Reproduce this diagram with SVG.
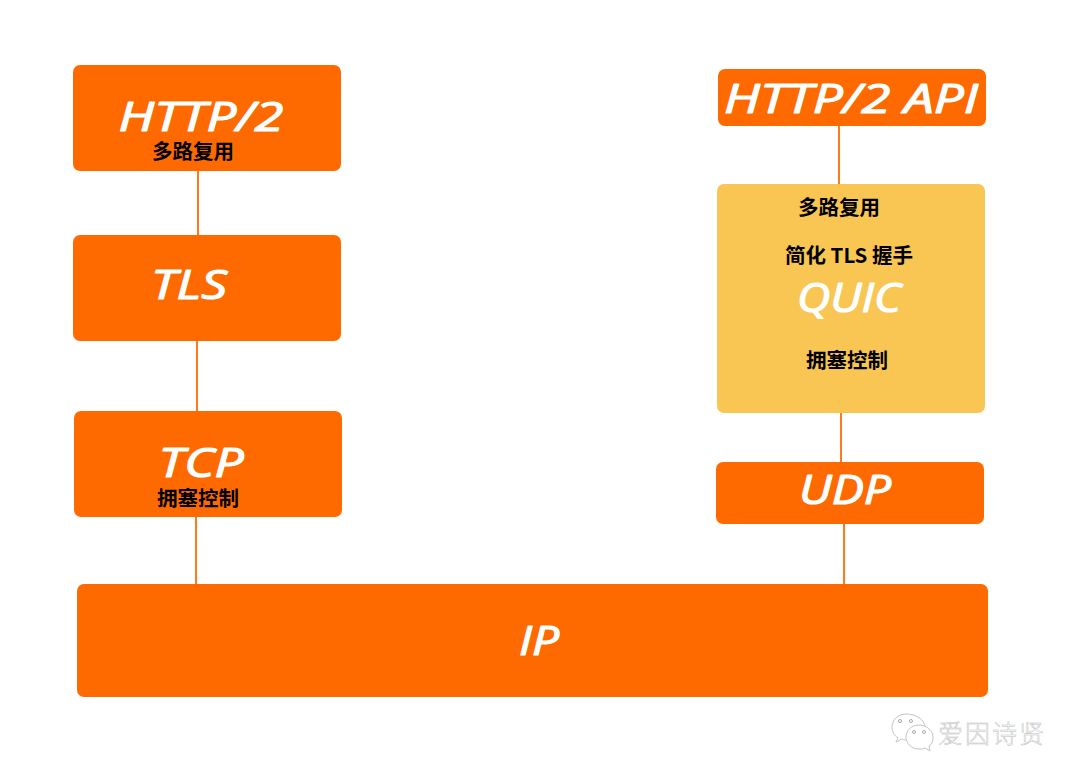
<svg xmlns="http://www.w3.org/2000/svg" width="1080" height="781" viewBox="0 0 1080 781">
<style>
.box{fill:#ff6a00}
.quic{fill:#f9c654}
.link{stroke:#ff7a1a;stroke-width:2;fill:none}
.title{font-family:"Open Sans","DejaVu Sans",sans-serif;font-style:italic;fill:#fff;stroke:#fff;stroke-width:1.2;stroke-linejoin:round;font-size:40px;text-anchor:middle}
.note{font-family:"Noto Sans CJK SC",sans-serif;font-weight:700;font-size:20.5px;fill:#000;text-anchor:middle}
.mark{font-family:"Noto Sans CJK SC",sans-serif;font-weight:300;font-size:25px;fill:#fff;stroke:#bdbdbd;stroke-width:.5}
.bubble{fill:#fff;stroke:#c4c4c4;stroke-width:1}
.dot{fill:#fff;stroke:#aaa;stroke-width:1}
</style>
<rect width="1080" height="781" fill="#fff"/>
<g id="connectors">
<line class="link" x1="198" y1="170" x2="198" y2="236"/>
<line class="link" x1="197" y1="340" x2="197" y2="411"/>
<line class="link" x1="196" y1="516" x2="196" y2="585"/>
<line class="link" x1="839" y1="125" x2="839" y2="185"/>
<line class="link" x1="841" y1="412" x2="841" y2="462"/>
<line class="link" x1="844" y1="523" x2="844" y2="585"/>
</g>
<g id="http2">
<rect class="box" x="73" y="65" width="268" height="106" rx="7"/>
<text class="title" x="201" y="131" textLength="165" lengthAdjust="spacingAndGlyphs">HTTP/2</text>
<text class="note" x="193" y="159">多路复用</text>
</g>
<g id="tls">
<rect class="box" x="73" y="235" width="268" height="106" rx="7"/>
<text class="title" x="189" y="299" textLength="76" lengthAdjust="spacingAndGlyphs">TLS</text>
</g>
<g id="tcp">
<rect class="box" x="74" y="411" width="268" height="106" rx="7"/>
<text class="title" x="201" y="477" textLength="85" lengthAdjust="spacingAndGlyphs">TCP</text>
<text class="note" x="198" y="506">拥塞控制</text>
</g>
<g id="http2-api">
<rect class="box" x="718" y="69" width="268" height="57" rx="7"/>
<text class="title" x="851" y="113" textLength="254" lengthAdjust="spacingAndGlyphs">HTTP/2 API</text>
</g>
<g id="quic">
<rect class="quic" x="717" y="184" width="268" height="229" rx="7"/>
<text class="note" x="839" y="215">多路复用</text>
<text class="note" x="849" y="263">简化 TLS 握手</text>
<text class="title" x="849" y="312" textLength="104" lengthAdjust="spacingAndGlyphs">QUIC</text>
<text class="note" x="847" y="368">拥塞控制</text>
</g>
<g id="udp">
<rect class="box" x="716" y="462" width="268" height="62" rx="7"/>
<text class="title" x="845" y="504" textLength="92" lengthAdjust="spacingAndGlyphs">UDP</text>
</g>
<g id="ip">
<rect class="box" x="77" y="584" width="911" height="113" rx="7"/>
<text class="title" x="539" y="655" textLength="40" lengthAdjust="spacingAndGlyphs">IP</text>
</g>
<g id="watermark">
<path class="bubble" d="M906 714c-8 0-14 6-14 13 0 5 2 8 6 11l-2 4 6-3c2 1 4 1 6 1 10 0 17-6 17-13s-9-13-19-13z"/>
<circle class="dot" cx="900" cy="721" r="1.5"/><circle class="dot" cx="911" cy="721" r="1.5"/>
<path class="bubble" d="M919 725c-8 0-13 6-13 12s5 12 13 12c2 0 4 0 6-1l5 3-1-5c3-2 4-5 4-9 0-6-6-12-14-12z"/>
<circle class="dot" cx="914" cy="732" r="1.5"/><circle class="dot" cx="924" cy="732" r="1.5"/>
<text class="mark" x="938" y="743" textLength="106">爱因诗贤</text>
</g>
</svg>
